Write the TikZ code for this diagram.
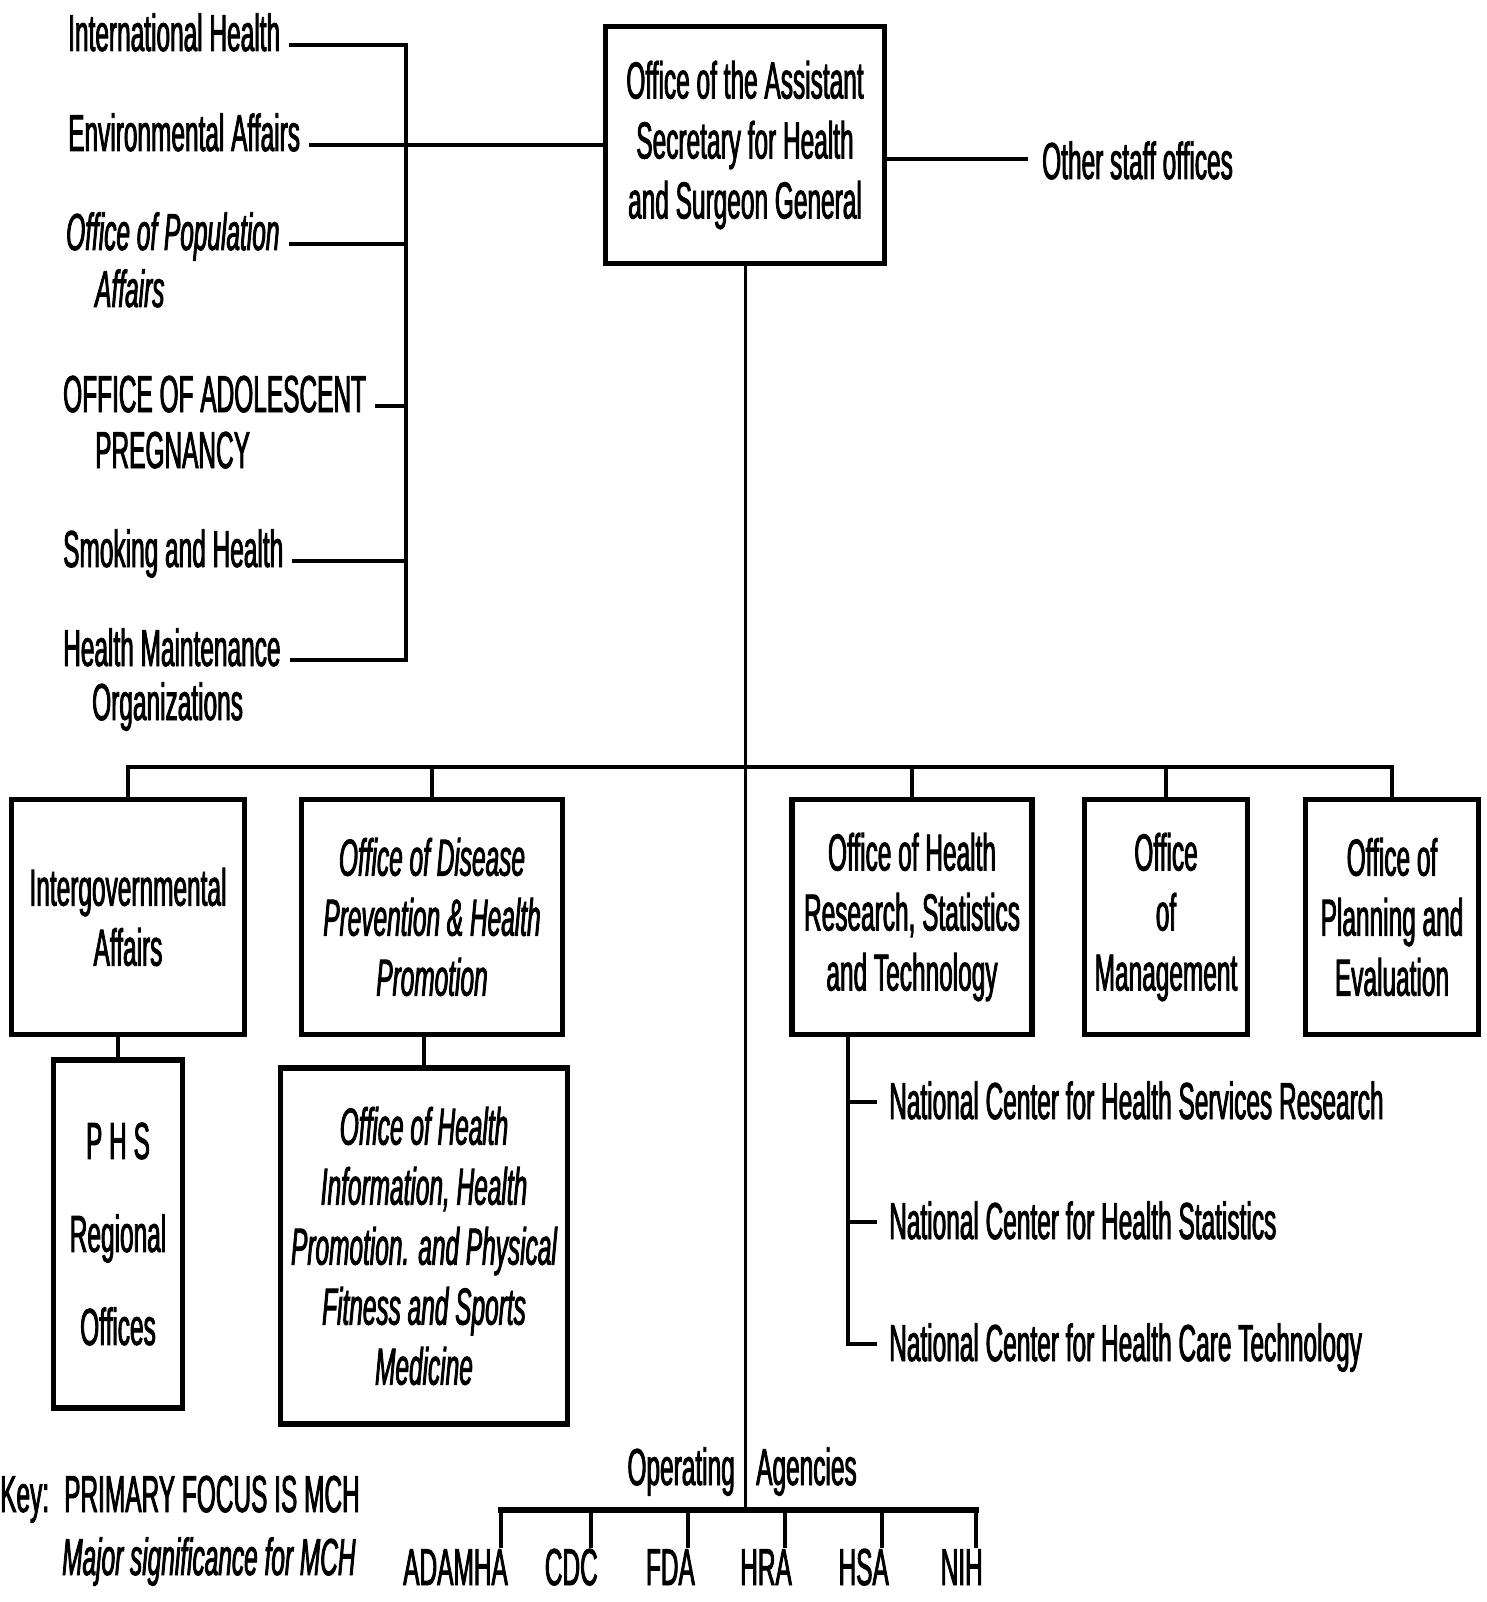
\documentclass[tikz,border=0pt]{standalone}
\usepackage{fontspec}
\setmainfont{Liberation Sans}[FakeStretch=0.47,FakeBold=1.6]
\usetikzlibrary{positioning}
\newcommand{\Chart}{\fontsize{52}{60}\selectfont}
\newcommand{\Tall}{\fontsize{52}{93}\selectfont}

\begin{document}
\begin{tikzpicture}[x=1pt,y=-1pt, font=\Chart,
    unit/.style={draw, line width=5.5pt, align=center, inner sep=0pt},
    link/.style={line width=4pt},
    lbl/.style={anchor=base west, inner sep=0pt}]
  \path[use as bounding box] (0,0) rectangle (1486,1602);
  % top office and staff offices
  \node[unit, minimum width=279pt, minimum height=237pt] (ash) at (745,145)
    {Office of the Assistant\\Secretary for Health\\and Surgeon General};
  \node[lbl] (oso) at (1042,179) {Other staff offices};
  \draw[link] ([xshift=-14pt,yshift=20pt]oso.base west) coordinate (t) -- (t -| ash.east);
  \node[lbl] (ih) at (68,51) {International Health};
  \node[lbl] (ea) at (68,151) {Environmental Affairs};
  \node[lbl, font=\Chart\itshape] (opa) at (66,250) {Office of Population};
  \node[lbl, font=\Chart\itshape] (opa2) at (95,307) {Affairs};
  \node[lbl] (oap) at (63,412) {OFFICE OF ADOLESCENT};
  \node[lbl] (oap2) at (95,468) {PREGNANCY};
  \node[lbl] (sh) at (63,567) {Smoking and Health};
  \node[lbl] (hmo) at (63,666) {Health Maintenance};
  \node[lbl] (hmo2) at (92,720) {Organizations};
  \coordinate (busL) at (406,0);
  \foreach \n in {ih,ea,opa,oap,sh,hmo}{
    \draw[link] ([xshift=9pt,yshift=6pt]\n.base east) coordinate (s) -- (s -| busL) coordinate (e\n);}
  \draw[link, line cap=rect] (eih) -- (ehmo);
  \draw[link] (ash.west) -- (ash.west -| busL);
  % second level
  \coordinate (bus2) at (0,767);
  \coordinate (agbus) at (745,1510);
  \node[unit, minimum width=233pt, minimum height=235pt] (ig) at (128,917) {Intergovernmental\\Affairs};
  \node[unit, minimum width=261pt, minimum height=235pt, font=\Chart\itshape] (odp) at (432,917)
    {Office of Disease\\Prevention \& Health\\Promotion};
  \node[unit, minimum width=240pt, minimum height=235pt] (ohr) at (912,917)
    {Office of Health\\Research, Statistics\\and Technology};
  \node[unit, minimum width=163pt, minimum height=235pt] (om) at (1166,917) {Office\\of\\Management};
  \node[unit, minimum width=173pt, minimum height=235pt] (ope) at (1392,917)
    {Office of\\Planning and\\Evaluation};
  \draw[line width=3pt] (ash.south) -- (agbus);
  \draw[link, line cap=rect] (ig.north |- bus2) -- (ope.north |- bus2);
  \foreach \b in {ig,odp,ohr,om,ope}{\draw[link] (\b.north) -- (\b.north |- bus2);}
  % under the left offices
  \node[unit, minimum width=129pt, minimum height=348pt, font=\Tall] (phs) at (118,1234)
    {P H S\\Regional\\Offices};
  \node[unit, minimum width=287pt, minimum height=356pt, font=\Chart\itshape] (ohi) at (424,1246)
    {Office of Health\\Information, Health\\Promotion. and Physical\\Fitness and Sports\\Medicine};
  \draw[link] (phs.north) -- (phs.north |- ig.south);
  \draw[link] (ohi.north) -- (ohi.north |- odp.south);
  % national centers
  \coordinate (hrstem) at ([xshift=-64pt]ohr.south);
  \node[lbl] (nchsr) at (889,1119) {National Center for Health Services Research};
  \node[lbl] (nchs) at (889,1239) {National Center for Health Statistics};
  \node[lbl] (nchct) at (889,1361) {National Center for Health Care Technology};
  \foreach \n in {nchsr,nchs,nchct}{
    \draw[link] ([xshift=-12pt,yshift=17pt]\n.base west) coordinate (s) -- (s -| hrstem) coordinate (h\n);}
  \draw[link, line cap=rect] (hrstem) -- (hnchct);
  % operating agencies
  \node[anchor=base east, inner sep=0pt] (opg) at (735,1485) {Operating};
  \node[anchor=base west, inner sep=0pt] (agc) at (756,1485) {Agencies};
  \foreach \nm/\tx/\xr in {adamha/ADAMHA/508, cdc/CDC/598, fda/FDA/695, hra/HRA/792, hsa/HSA/889, nih/NIH/983}{
    \node[anchor=base east, inner sep=0pt] (\nm) at (\xr,1585) {\tx};
    \draw[line width=3.5pt] ([xshift=-7pt,yshift=1pt]\nm.north east) coordinate (s) -- (s |- agbus) coordinate (t\nm);}
  \draw[line width=6pt, line cap=rect] (tadamha) -- (tnih);
  % key
  \node[lbl] (key) at (0,1512) {Key:};
  \node[lbl] (kprim) at (64,1512) {PRIMARY FOCUS IS MCH};
  \node[lbl, font=\Chart\itshape] (kmaj) at (62,1575) {Major significance for MCH};
\end{tikzpicture}
\end{document}
